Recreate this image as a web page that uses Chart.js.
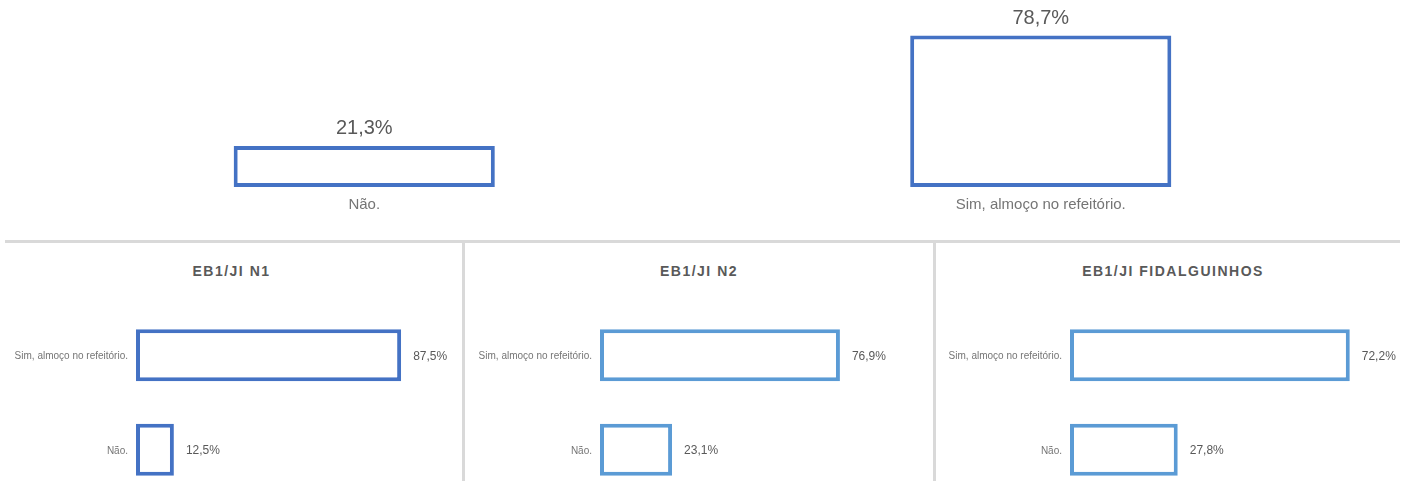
<!DOCTYPE html>
<html>
<head>
<meta charset="utf-8">
<script src="https://cdn.jsdelivr.net/npm/chart.js@4.4.1/dist/chart.umd.min.js"></script>
<style>
  body { margin: 0; width: 1410px; height: 481px; overflow: hidden; background: #fff; font-family: "Liberation Sans", Arial, sans-serif; }
  .box { position: absolute; }
  .hline { position: absolute; left: 5px; top: 240px; width: 1395px; height: 3px; background: #d9d9d9; }
  .vline { position: absolute; top: 240px; width: 3px; height: 241px; background: #d9d9d9; }
  .ttl { position: absolute; top: 264px; height: 14px; line-height: 14px; font-weight: bold; font-size: 14px; letter-spacing: 1.5px; color: #595959; text-align: center; white-space: nowrap; }
</style>
</head>
<body>

<div class="box" style="left:0;top:0;"><canvas id="topChart" width="1410" height="240"></canvas></div>

<div class="hline"></div>
<div class="vline" style="left:462px;"></div>
<div class="vline" style="left:933px;"></div>

<div class="ttl" id="t0" style="left:0;width:463px;"></div>
<div class="ttl" id="t1" style="left:465px;width:468px;"></div>
<div class="ttl" id="t2" style="left:936px;width:474px;"></div>

<div class="box" style="left:0;top:241px;"><canvas id="c0" width="463" height="260"></canvas></div>
<div class="box" style="left:464px;top:241px;"><canvas id="c1" width="469" height="260"></canvas></div>
<div class="box" style="left:935px;top:241px;"><canvas id="c2" width="475" height="260"></canvas></div>

<script>
// overall answers
const topCategories = ['Não.', 'Sim, almoço no refeitório.'];
const topValues = [21.3, 78.7];

// per school
const schoolNames = ['EB1/JI N1', 'EB1/JI N2', 'EB1/JI FIDALGUINHOS'];
const schoolCategories = ['Sim, almoço no refeitório.', 'Não.'];
const n1Values = [87.5, 12.5];
const n2Values = [76.9, 23.1];
const fidalguinhosValues = [72.2, 27.8];

const FONT = '"Liberation Sans", Arial, sans-serif';

function fmt(v) {
    return v.toFixed(1).replace('.', ',') + '%';
}

// draws the value and category labels next to each bar
const labelPlugin = {
    id: 'barLabels',
    afterDatasetsDraw(chart) {
        let ctx = chart.ctx;
        let meta = chart.getDatasetMeta(0);
        let horizontal = chart.options.indexAxis === 'y';
        ctx.save();
        meta.data.forEach(function(bar, i) {
            let txt = fmt(chart.data.datasets[0].data[i]);
            let cat = chart.data.labels[i];
            if (horizontal) {
                ctx.textBaseline = 'middle';
                ctx.font = '12px ' + FONT;
                ctx.fillStyle = '#595959';
                ctx.textAlign = 'left';
                ctx.fillText(txt, bar.x + 12, bar.y + 1);
                ctx.font = '10px ' + FONT;
                ctx.fillStyle = '#757575';
                ctx.textAlign = 'right';
                ctx.fillText(cat, chart.chartArea.left - 8, bar.y + 1);
            } else {
                ctx.textBaseline = 'alphabetic';
                ctx.textAlign = 'center';
                ctx.font = '20px ' + FONT;
                ctx.fillStyle = '#595959';
                ctx.fillText(txt, bar.x, bar.y - 12);
                ctx.font = '15px ' + FONT;
                ctx.fillStyle = '#757575';
                ctx.fillText(cat, bar.x, bar.base + 22);
            }
        });
        ctx.restore();
    }
};

new Chart(document.getElementById('topChart').getContext('2d'), {
    type: 'bar',
    data: {
        labels: topCategories,
        datasets: [{
            data: topValues,
            backgroundColor: '#ffffff',
            borderColor: '#4472C4',
            borderWidth: 4,
            borderSkipped: false,
            categoryPercentage: 1,
            barPercentage: 0.386
        }]
    },
    options: {
        responsive: false,
        animation: false,
        layout: { padding: { left: 26, right: 31, top: 33, bottom: 53 } },
        plugins: { legend: { display: false }, tooltip: { enabled: false } },
        scales: {
            x: { display: false },
            y: { display: false, min: 0, max: 80 }
        }
    },
    plugins: [labelPlugin]
});

// one small horizontal chart per school
const schoolValues = [n1Values, n2Values, fidalguinhosValues];
const schoolColors = ['#4472C4', '#5B9BD5', '#5B9BD5'];
const axisMax = [100, 100, 80];
const paddings = [
    { left: 136, right: 24, top: 67, bottom: 4 },
    { left: 136, right: 21, top: 67, bottom: 4 },
    { left: 135, right: 30, top: 67, bottom: 4 }
];

schoolNames.forEach(function(name, i) {
    document.getElementById('t' + i).textContent = name;
    new Chart(document.getElementById('c' + i).getContext('2d'), {
        type: 'bar',
        data: {
            labels: schoolCategories,
            datasets: [{
                data: schoolValues[i],
                backgroundColor: '#ffffff',
                borderColor: schoolColors[i],
                borderWidth: 4,
                borderSkipped: false,
                categoryPercentage: 1,
                barPercentage: 0.55
            }]
        },
        options: {
            indexAxis: 'y',
            responsive: false,
            animation: false,
            layout: { padding: paddings[i] },
            plugins: { legend: { display: false }, tooltip: { enabled: false } },
            scales: {
                x: { display: false, min: 0, max: axisMax[i] },
                y: { display: false }
            }
        },
        plugins: [labelPlugin]
    });
});
</script>
</body>
</html>
